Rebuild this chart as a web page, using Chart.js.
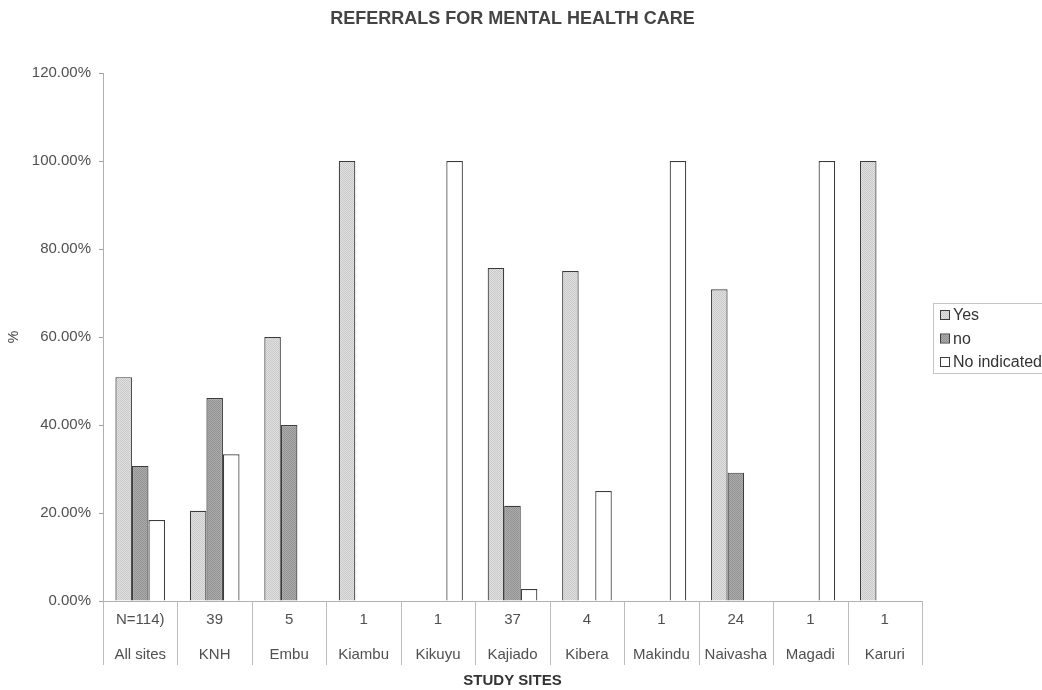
<!DOCTYPE html>
<html>
<head>
<meta charset="utf-8">
<title>Referrals for mental health care</title>
<script src="https://cdn.jsdelivr.net/npm/chart.js@4/dist/chart.umd.min.js"></script>
<style>
  html, body { margin: 0; padding: 0; background: #ffffff; }
  #wrap { width: 1042px; height: 690px; }
</style>
</head>
<body>
<div id="wrap"><canvas id="chart" width="1042" height="690"></canvas></div>
<script>
// Study sites and number of patients at each site
const sites = ['All sites', 'KNH', 'Embu', 'Kiambu', 'Kikuyu', 'Kajiado', 'Kibera', 'Makindu', 'Naivasha', 'Magadi', 'Karuri'];
const sampleSizes = ['N=114)', '39', '5', '1', '1', '37', '4', '1', '24', '1', '1'];

// Share of patients referred, per site (%)
const yesValues = [50.88, 20.51, 60.00, 100.00, 0, 75.68, 75.00, 0, 70.83, 0, 100.00];
const noValues = [30.70, 46.15, 40.00, 0, 0, 21.62, 0, 0, 29.17, 0, 0];
const notIndicatedValues = [18.42, 33.33, 0, 0, 100.00, 2.70, 25.00, 100.00, 0, 100.00, 0];

const seriesNames = ['Yes', 'no', 'No indicated'];
const yTicks = [0, 20, 40, 60, 80, 100, 120];

// Two-tone dotted fills in the style of a photocopied print
function dotPattern(light, dark) {
  const c = document.createElement('canvas');
  c.width = 2; c.height = 2;
  const g = c.getContext('2d');
  g.fillStyle = light; g.fillRect(0, 0, 2, 2);
  g.fillStyle = dark; g.fillRect(0, 0, 1, 1); g.fillRect(1, 1, 1, 1);
  return g.createPattern(c, 'repeat');
}
const ctx = document.getElementById('chart').getContext('2d');
const yesFill = dotPattern('#e0e0e0', '#cacaca');
const noFill = dotPattern('#acacac', '#929292');
const niFill = '#ffffff';
const edge = '#3c3c3c';

const FONT = "'Liberation Sans', Arial, sans-serif";

// Category separators under the x axis and a boxed legend on the right
const framePlugin = {
  id: 'frame',
  afterDraw(chart) {
    const c = chart.ctx;
    const x = chart.scales.x;
    const area = chart.chartArea;
    const half = (x.getPixelForValue(1) - x.getPixelForValue(0)) / 2;
    c.save();
    c.strokeStyle = '#bcbcbc';
    c.lineWidth = 1;
    for (let i = 0; i <= sites.length; i++) {
      const px = Math.round(x.getPixelForValue(i) - half) + 0.5;
      c.beginPath();
      c.moveTo(px, area.bottom);
      c.lineTo(px, area.bottom + 64);
      c.stroke();
    }

    // legend
    const lx = 933, ly = 303, lw = 118, lh = 70;
    c.strokeStyle = '#c4c4c4';
    c.strokeRect(lx + 0.5, ly + 0.5, lw, lh);
    const rows = [315, 338.5, 362];
    c.font = '16px ' + FONT;
    c.textBaseline = 'middle';
    c.textAlign = 'left';
    chart.data.datasets.forEach((ds, i) => {
      const y = rows[i];
      c.fillStyle = ds.backgroundColor;
      c.fillRect(941, y - 4, 8, 8);
      c.strokeStyle = edge;
      c.lineWidth = 1;
      c.strokeRect(940.5, y - 4.5, 9, 9);
      c.fillStyle = '#333333';
      c.fillText(ds.label, 953, y + 1);
    });
    c.restore();
  }
};

new Chart(ctx, {
  type: 'bar',
  data: {
    labels: sites.map((s, i) => [sampleSizes[i], s]),
    datasets: [
      { label: seriesNames[0], data: yesValues, backgroundColor: yesFill, borderColor: edge, borderWidth: 1.2 },
      { label: seriesNames[1], data: noValues, backgroundColor: noFill, borderColor: edge, borderWidth: 1.2 },
      { label: seriesNames[2], data: notIndicatedValues, backgroundColor: niFill, borderColor: edge, borderWidth: 1.2 }
    ]
  },
  options: {
    responsive: false,
    animation: false,
    layout: { padding: { left: 0, right: 120, top: 0, bottom: 0 } },
    datasets: {
      bar: { categoryPercentage: 0.667, barPercentage: 1.0, borderSkipped: 'bottom' }
    },
    plugins: {
      legend: { display: false },
      tooltip: { enabled: false },
      title: {
        display: true,
        text: 'REFERRALS FOR MENTAL HEALTH CARE',
        fullSize: false,
        color: '#444444',
        font: { family: FONT, size: 18, weight: 'bold' },
        padding: { top: 8, bottom: 43.4 }
      }
    },
    scales: {
      x: {
        grid: { display: false, drawTicks: false },
        border: { display: true, color: '#b0b0b0', width: 1 },
        ticks: {
          autoSkip: false,
          maxRotation: 0,
          minRotation: 0,
          padding: 1.5,
          color: '#505050',
          font: { family: FONT, size: 15, lineHeight: '35px' }
        },
        title: {
          display: true,
          text: 'STUDY SITES',
          color: '#333333',
          font: { family: FONT, size: 15, weight: 'bold' },
          padding: { top: 0, bottom: 0 }
        },
        afterFit(s) { s.height = 89; }
      },
      y: {
        min: 0,
        max: 120,
        afterBuildTicks(s) { s.ticks = yTicks.map(v => ({ value: v })); },
        grid: { display: true, drawOnChartArea: false, drawTicks: true, tickLength: 4, color: '#a0a0a0' },
        border: { display: true, color: '#b0b0b0', width: 1 },
        ticks: {
          padding: 8,
          color: '#505050',
          font: { family: FONT, size: 15 },
          callback: v => v.toFixed(2) + '%'
        },
        title: {
          display: true,
          text: '%',
          color: '#404040',
          font: { family: FONT, size: 14 },
          padding: { top: 6, bottom: 0 }
        },
        afterFit(s) { s.width = 103; }
      }
    }
  },
  plugins: [framePlugin]
});
</script>
</body>
</html>
